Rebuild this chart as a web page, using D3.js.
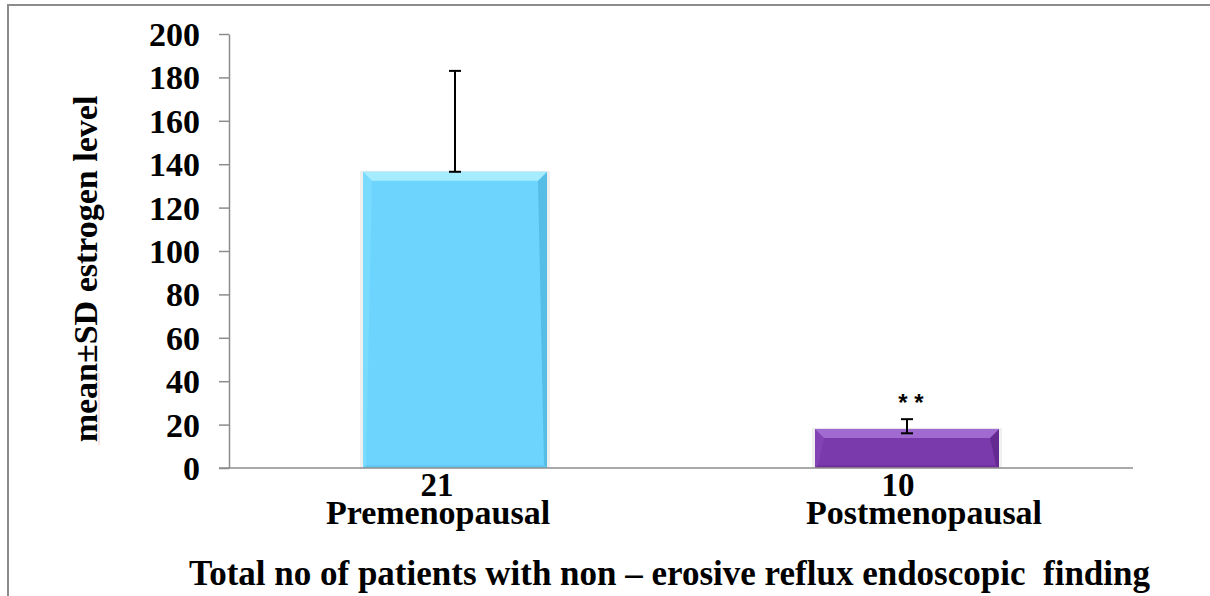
<!DOCTYPE html>
<html><head><meta charset="utf-8">
<script src="https://cdn.jsdelivr.net/npm/d3@7"></script>
<style>
html,body{margin:0;padding:0;background:#fff;}
svg{display:block;}
</style></head>
<body>
<svg id="chart" width="1210" height="596"></svg>
<script>
const categories = ["Premenopausal", "Postmenopausal"];
const counts = ["21", "10"];
const means = [136.5, 18];
const errUpper = [183, 22.5];
const errLower = [136.5, 16];
const yTicks = [0, 20, 40, 60, 80, 100, 120, 140, 160, 180, 200];
const yTitle = "mean±SD estrogen level";
const xTitle = "Total no of patients with non – erosive reflux endoscopic  finding";
const significance = ["", "* *"];
const barColors = [
  {main:"#6dd5fd", top:"#a6ecff", left:"#78dbff", right:"#55bde6", bottom:"#63c9f2"},
  {main:"#7b3aab", top:"#a06ad0", left:"#8443b5", right:"#652a92", bottom:"#70319e"}
];
const SERIF = '"Liberation Serif","Times New Roman",Times,serif';

const svg = d3.select("#chart");
const m = {left:229, right:1133, top:34, bottom:468};

function txt(sel){ return sel.attr("font-family",SERIF).attr("font-weight","bold").attr("fill","#000")
  .style("font-family",SERIF).style("font-weight","bold"); }

// frame
svg.append("line").attr("x1",8).attr("x2",8).attr("y1",4).attr("y2",596)
  .attr("stroke","#8c8c8c").attr("stroke-width",2);
svg.append("line").attr("x1",8).attr("x2",1210).attr("y1",5).attr("y2",5)
  .attr("stroke","#8c8c8c").attr("stroke-width",2);

const x = d3.scaleBand().domain(categories).range([m.left, m.right])
  .paddingInner(0.593).paddingOuter(0.2965);
const y = d3.scaleLinear().domain([0,200]).range([m.bottom, m.top]);

// y axis
const yAxis = svg.append("g").attr("transform",`translate(${m.left},0)`)
  .call(d3.axisLeft(y).tickValues(yTicks).tickSize(10).tickPadding(19).tickSizeOuter(0));
yAxis.select(".domain").attr("stroke","#8c8c8c").attr("stroke-width",1.5);
yAxis.selectAll(".tick line").attr("stroke","#8c8c8c").attr("stroke-width",1.5);
txt(yAxis.selectAll(".tick text")).style("font-size","34px").attr("dy","0.34em");

// bars with bevel
const bw = x.bandwidth();
const bev = 9;
categories.forEach((c,i)=>{
  const x0 = x(c), x1 = x0 + bw;
  const y0 = y(means[i]), y1 = y(0);
  const col = barColors[i];
  const g = svg.append("g");
  g.append("rect").attr("x",x0-3).attr("y",y0-1).attr("width",bw+6).attr("height",y1-y0+1)
    .attr("fill","#efefef");
  g.append("rect").attr("x",x0).attr("y",y0).attr("width",bw).attr("height",y1-y0).attr("fill",col.main);
  const b = Math.min(bev, (y1-y0)/2);
  const bs = 3;
  g.append("polygon").attr("points",`${x0},${y1} ${x0+bs},${y1-bs} ${x1-bs},${y1-bs} ${x1},${y1}`).attr("fill",col.bottom);
  g.append("polygon").attr("points",`${x0},${y0} ${x0+b},${y0+b} ${x0+bs},${y1-bs} ${x0},${y1}`).attr("fill",col.left);
  g.append("polygon").attr("points",`${x1},${y0} ${x1-b},${y0+b} ${x1-bs},${y1-bs} ${x1},${y1}`).attr("fill",col.right);
  g.append("polygon").attr("points",`${x0},${y0} ${x1},${y0} ${x1-b},${y0+b} ${x0+b},${y0+b}`).attr("fill",col.top);
});

// x axis line
svg.append("line").attr("x1",m.left-10).attr("x2",m.right).attr("y1",y(0)).attr("y2",y(0))
  .attr("stroke","#8c8c8c").attr("stroke-width",1.5);

// error bars
categories.forEach((c,i)=>{
  const cx = x(c) + bw/2;
  const g = svg.append("g").attr("stroke","#000").attr("stroke-width",2);
  g.append("line").attr("x1",cx).attr("x2",cx).attr("y1",y(errLower[i])).attr("y2",y(errUpper[i]));
  g.append("line").attr("x1",cx-6).attr("x2",cx+6).attr("y1",y(errUpper[i])).attr("y2",y(errUpper[i]));
  g.append("line").attr("x1",cx-6).attr("x2",cx+6).attr("y1",y(errLower[i])).attr("y2",y(errLower[i]));
  if (significance[i]) {
    svg.append("text").attr("x",cx + 4).attr("y",y(errUpper[i]) - 8).attr("text-anchor","middle")
      .attr("font-family",'"Liberation Sans",Arial,sans-serif').attr("font-weight","bold")
      .style("font-size","24px").style("white-space","pre").text(significance[i]);
  }
});

// category labels (Excel-style label offsets)
const countDx = [-18, -9];
const nameDx = [-17, 17];
categories.forEach((c,i)=>{
  const cx = x(c) + bw/2;
  txt(svg.append("text")).attr("x",cx + countDx[i]).attr("y",496).attr("text-anchor","middle")
    .style("font-size","33px").text(counts[i]);
  txt(svg.append("text")).attr("x",cx + nameDx[i]).attr("y",524).attr("text-anchor","middle")
    .style("font-size","34px").text(c);
});

// x title
txt(svg.append("text")).attr("x",189).attr("y",585).attr("text-anchor","start")
  .style("font-size","35px").style("white-space","pre").text(xTitle);

// y title
txt(svg.append("text")).attr("transform","translate(97,269) rotate(-90)").attr("text-anchor","middle")
  .style("font-size","34px").text(yTitle);
// faint underline mark under "mean±SD"
svg.append("line").attr("x1",99).attr("x2",99).attr("y1",373).attr("y2",445)
  .attr("stroke","#f3c4c4").attr("stroke-width",1);
</script>
</body></html>
